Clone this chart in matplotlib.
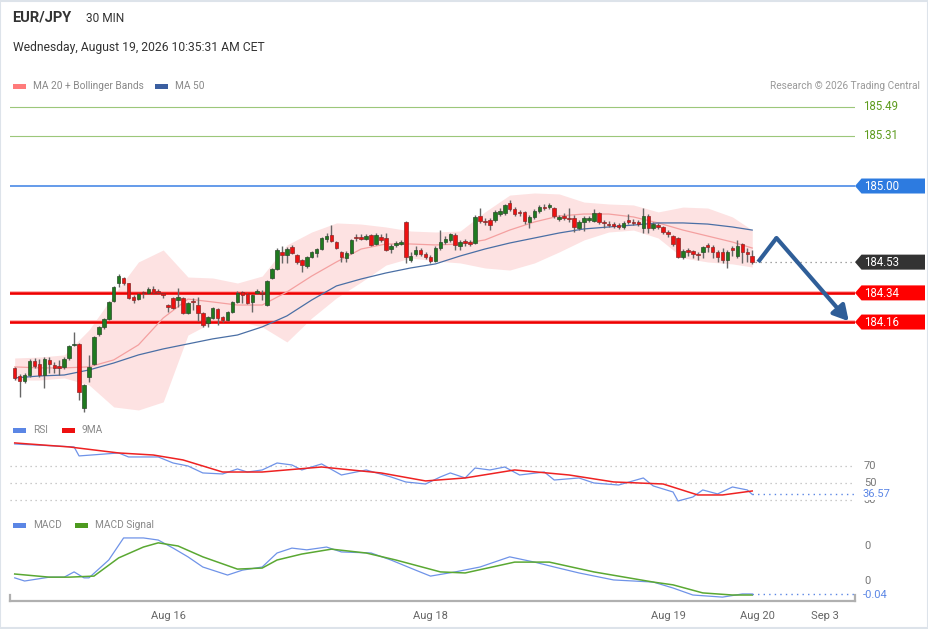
import matplotlib
matplotlib.use("Agg")
import matplotlib.pyplot as plt
from matplotlib.patches import Rectangle, Polygon
import numpy as np

plt.rcParams['font.family'] = ['Roboto', 'DejaVu Sans']

# ---------------- data ----------------
opens = [183.877,183.827,183.796,183.833,183.920,183.901,183.833,183.926,183.895,183.889,
         183.883,183.938,184.019,184.025,183.630,183.821,183.901,184.086,184.130,184.179,
         184.290,184.401,184.432,184.401,184.315,184.302,184.340,184.340,184.364,184.352,
         184.340,184.265,184.309,184.296,184.309,184.216,184.284,184.265,184.216,184.154,
         184.185,184.241,184.191,184.173,184.222,184.284,184.346,184.333,184.284,184.340,
         184.340,184.265,184.432,184.488,184.593,184.574,184.623,184.574,184.543,184.506,
         184.562,184.586,184.611,184.673,184.698,184.654,184.593,184.556,184.586,184.679,
         184.685,184.673,184.698,184.642,184.685,184.679,184.611,184.636,184.642,184.778,
         184.543,184.580,184.605,184.580,184.562,184.537,184.617,184.654,184.667,184.698,
         184.630,184.660,184.654,184.648,184.815,184.784,184.790,184.790,184.827,184.833,
         184.895,184.858,184.840,184.840,184.778,184.809,184.846,184.870,184.870,184.864,
         184.796,184.815,184.802,184.802,184.741,184.778,184.790,184.784,184.833,184.778,
         184.765,184.765,184.759,184.747,184.790,184.778,184.778,184.741,184.815,184.741,
         184.759,184.747,184.716,184.691,184.679,184.562,184.605,184.599,184.580,184.593,
         184.636,184.623,184.593,184.593,184.543,184.617,184.568,184.642,184.593,184.568]
closes = [183.815,183.796,183.833,183.920,183.889,183.833,183.932,183.901,183.877,183.877,
          183.932,184.012,184.025,183.728,183.772,183.883,184.068,184.130,184.179,184.284,
          184.377,184.444,184.401,184.309,184.296,184.333,184.338,184.364,184.340,184.340,
          184.327,184.253,184.247,184.315,184.216,184.278,184.282,184.216,184.142,184.191,
          184.247,184.185,184.173,184.222,184.284,184.340,184.327,184.278,184.327,184.352,
          184.336,184.414,184.488,184.605,184.574,184.611,184.586,184.531,184.512,184.562,
          184.593,184.611,184.679,184.691,184.660,184.617,184.562,184.586,184.667,184.677,
          184.673,184.691,184.636,184.698,184.667,184.605,184.630,184.648,184.654,184.562,
          184.568,184.605,184.580,184.562,184.537,184.617,184.654,184.673,184.704,184.636,
          184.654,184.648,184.642,184.809,184.784,184.778,184.759,184.840,184.846,184.883,
          184.858,184.827,184.833,184.784,184.809,184.846,184.870,184.864,184.883,184.815,
          184.809,184.802,184.796,184.747,184.778,184.802,184.802,184.833,184.778,184.772,
          184.759,184.753,184.747,184.772,184.778,184.772,184.765,184.815,184.741,184.765,
          184.747,184.716,184.704,184.642,184.562,184.599,184.593,184.580,184.574,184.623,
          184.623,184.593,184.562,184.543,184.593,184.605,184.630,184.593,184.580,184.531]
highs = [183.883,183.840,183.846,183.932,183.938,183.932,183.944,183.944,183.914,183.926,
         183.944,184.019,184.099,184.031,183.778,183.957,184.074,184.136,184.185,184.290,
         184.383,184.457,184.438,184.401,184.327,184.340,184.352,184.377,184.383,184.364,
         184.340,184.272,184.315,184.370,184.315,184.284,184.309,184.315,184.222,184.198,
         184.253,184.247,184.198,184.228,184.290,184.352,184.352,184.340,184.333,184.364,
         184.358,184.420,184.494,184.617,184.630,184.623,184.636,184.580,184.549,184.568,
         184.599,184.617,184.685,184.710,184.759,184.660,184.599,184.599,184.673,184.704,
         184.704,184.704,184.704,184.710,184.704,184.710,184.642,184.660,184.667,184.784,
         184.593,184.630,184.617,184.593,184.574,184.630,184.728,184.691,184.710,184.710,
         184.667,184.673,184.667,184.821,184.864,184.802,184.802,184.852,184.864,184.889,
         184.914,184.870,184.852,184.846,184.821,184.858,184.883,184.889,184.895,184.870,
         184.821,184.833,184.864,184.821,184.790,184.815,184.815,184.858,184.840,184.790,
         184.784,184.778,184.772,184.784,184.827,184.796,184.790,184.864,184.827,184.778,
         184.772,184.753,184.728,184.698,184.685,184.611,184.617,184.605,184.593,184.630,
         184.648,184.636,184.605,184.617,184.605,184.630,184.667,184.648,184.617,184.605]
lows = [183.802,183.698,183.784,183.821,183.877,183.821,183.753,183.846,183.846,183.833,
        183.870,183.926,184.012,183.679,183.605,183.790,183.895,184.074,184.117,184.173,
        184.284,184.377,184.389,184.302,184.278,184.296,184.309,184.333,184.333,184.333,
        184.309,184.222,184.241,184.253,184.210,184.210,184.235,184.167,184.130,184.130,
        184.179,184.142,184.160,184.167,184.216,184.278,184.278,184.272,184.222,184.333,
        184.296,184.259,184.426,184.481,184.525,184.525,184.580,184.519,184.469,184.494,
        184.556,184.562,184.605,184.654,184.654,184.611,184.531,184.531,184.580,184.660,
        184.667,184.667,184.630,184.636,184.654,184.599,184.586,184.623,184.636,184.525,
        184.531,184.568,184.568,184.549,184.525,184.531,184.605,184.642,184.654,184.605,
        184.605,184.630,184.630,184.642,184.772,184.759,184.728,184.778,184.815,184.821,
        184.846,184.815,184.815,184.765,184.741,184.796,184.833,184.852,184.858,184.802,
        184.784,184.790,184.778,184.716,184.728,184.722,184.778,184.778,184.765,184.741,
        184.747,184.741,184.735,184.735,184.765,184.759,184.753,184.710,184.710,184.728,
        184.735,184.704,184.685,184.630,184.556,184.549,184.568,184.556,184.543,184.556,
        184.593,184.556,184.531,184.525,184.494,184.568,184.556,184.525,184.531,184.519]

# Indicator samples (candle index, value)
ind_idx = [0,5,10,15,20,25,30,35,40,45,50,55,60,65,70,75,80,85,90,95,100,105,110,115,120,125,130,135,140,145,149]
bb_upper = [183.938,183.944,183.957,184.111,184.327,184.531,184.605,184.438,184.432,184.401,184.444,184.636,
            184.716,184.772,184.765,184.747,184.722,184.716,184.722,184.840,184.944,184.957,184.951,184.901,
            184.889,184.883,184.840,184.870,184.864,184.809,184.728]
bb_lower = [183.802,183.802,183.815,183.772,183.636,183.617,183.667,184.080,184.160,184.167,184.130,184.037,
            184.185,184.309,184.407,184.512,184.556,184.537,184.525,184.494,184.481,184.525,184.593,184.667,
            184.716,184.728,184.679,184.556,184.531,184.519,184.500]
ma20 = [183.883,183.877,183.877,183.883,183.926,184.019,184.185,184.302,184.284,184.265,184.265,184.346,
        184.444,184.531,184.611,184.642,184.642,184.636,184.642,184.667,184.728,184.778,184.815,184.827,
        184.827,184.809,184.772,184.728,184.691,184.654,184.617]
ma50 = [183.815,183.827,183.833,183.864,183.907,183.957,183.994,184.025,184.056,184.080,184.130,184.198,
        184.296,184.383,184.426,184.463,184.494,184.519,184.568,184.611,184.648,184.679,184.710,184.735,
        184.747,184.759,184.772,184.772,184.765,184.747,184.728]

rsi_idx = [0,12,13,21,23,29,32,35,38,42,45,47,50,53,56,58,62,66,71,76,79,83,86,88,91,93,96,99,102,107,
           109,114,117,122,127,129,133,134,137,139,142,145,148,149]
rsi_val = [95.9,92.4,81.8,85.3,80.6,80.6,73.5,70.0,61.8,60.6,66.5,62.9,65.3,73.5,71.2,65.3,72.4,59.4,65.3,
           57.1,51.2,48.8,57.1,61.8,55.9,67.6,65.3,68.8,59.4,62.9,53.5,55.9,50.0,47.6,55.9,46.5,39.4,28.8,
           33.5,41.8,37.1,45.3,41.8,36.57]
rsi_ma_idx = [0,11,21,28,34,42,50,62,74,83,91,101,112,121,131,138,143,149]
rsi_ma_val = [97.1,92.4,85.3,82.9,77.1,62.9,62.9,68.8,61.8,52.4,55.9,65.3,59.4,51.2,48.8,35.9,35.9,40.6]
rsi_levels = [70, 50, 30]

macd_idx = [0,2,7,10,12,14,15,19,22,26,29,32,35,38,43,46,50,53,56,59,63,66,72,76,81,84,89,94,100,105,
            109,114,121,129,133,137,143,147,149]
macd_val = [0.009,0.000,0.011,0.011,0.026,0.009,0.009,0.060,0.123,0.123,0.117,0.094,0.069,0.040,0.017,
            0.031,0.040,0.080,0.094,0.089,0.097,0.083,0.080,0.060,0.031,0.014,0.026,0.040,0.069,0.054,
            0.040,0.023,0.003,-0.003,-0.020,-0.040,-0.046,-0.037,-0.037]
sig_idx = [0,7,11,16,21,26,29,33,38,45,50,53,58,64,71,77,86,91,101,108,117,129,133,139,145,149]
sig_val = [0.020,0.011,0.011,0.014,0.066,0.097,0.109,0.100,0.069,0.034,0.037,0.060,0.077,0.091,0.080,
           0.060,0.026,0.023,0.054,0.054,0.026,-0.003,-0.011,-0.034,-0.040,-0.040]
macd_ticks = [0.1, 0.0]

levels_green = [185.49, 185.31]
level_blue = 185.00
levels_red = [184.34, 184.16]
last_price = 184.53

forecast_idx = [150.2, 153.9, 168.5]
forecast_price = [184.531, 184.679, 184.165]

tick_idx = [31, 84, 132, 150, 163.7]
tick_labels = ['Aug 16', 'Aug 18', 'Aug 19', 'Aug 20', 'Sep 3']

# ---------------- layout ----------------
W, H = 929, 629
fig = plt.figure(figsize=(W / 100, H / 100), dpi=100)
fig.patch.set_facecolor('white')

def rect(x0, y0, x1, y1):
    return [x0 / W, 1 - y1 / H, (x1 - x0) / W, (y1 - y0) / H]

XLIM = (-0.95, 169.76)
ax = fig.add_axes(rect(10, 95, 855, 415))
ax_r = fig.add_axes(rect(10, 438, 855, 505))
ax_m = fig.add_axes(rect(10, 535, 855, 601))
for a in (ax, ax_r, ax_m):
    a.set_xlim(*XLIM)
    a.set_facecolor('none')
    for s in a.spines.values():
        s.set_visible(False)
    a.set_xticks([])
    a.set_yticks([])
ax.set_ylim(183.586, 185.562)
ax_r.set_ylim(24.1, 102.9)
ax_m.set_ylim(-0.0571, 0.1314)

n = len(closes)
xs = np.arange(n)
o = np.array(opens); c = np.array(closes); h = np.array(highs); l = np.array(lows)

# Bollinger + MAs
ax.fill_between(ind_idx, bb_lower, bb_upper, color='#fde2e2', lw=0, zorder=1)
ax.plot(ind_idx, ma20, color='#f4a0a0', lw=0.9, zorder=2)
ax.plot(ind_idx, ma50, color='#4a6fa5', lw=0.9, zorder=2)

# level lines
for lv in levels_green:
    ax.axhline(lv, color='#9cc77a', lw=0.8, zorder=1)
ax.axhline(level_blue, color='#4a8ae6', lw=1.2, zorder=1)
for lv in levels_red:
    ax.axhline(lv, color='#ffb0b0', lw=2.8, zorder=1)
    ax.axhline(lv, color='#ee0000', lw=1.8, zorder=1)

# candles
up = c >= o
ax.vlines(xs, l, h, color='#666666', lw=1.0, zorder=3)
body_bot = np.minimum(o, c)
body_h = np.maximum(np.abs(c - o), 0.006)
ax.bar(xs[up], body_h[up], bottom=body_bot[up], width=0.72,
       color='#1f7a1f', edgecolor='#2b4a2b', linewidth=0.5, zorder=4)
ax.bar(xs[~up], body_h[~up], bottom=body_bot[~up], width=0.72,
       color='#ee1111', edgecolor='#8a2a2a', linewidth=0.5, zorder=4)

# last price dotted
ax.plot([n - 0.4, XLIM[1]], [last_price, last_price], color='#888888', lw=0.9,
        ls=(0, (1, 3)), zorder=2)

# forecast arrow
arrow_col = '#2f5e98'
ax.plot(forecast_idx[:2], forecast_price[:2], color=arrow_col, lw=3, solid_capstyle='butt', zorder=5)
ax.annotate('', xy=(forecast_idx[2], forecast_price[2]), xytext=(forecast_idx[1], forecast_price[1]),
            arrowprops=dict(arrowstyle='-|>,head_length=0.9,head_width=0.5', lw=3, color=arrow_col,
                            shrinkA=0, shrinkB=0), zorder=5)

# RSI panel
for lv in rsi_levels:
    ax_r.axhline(lv, color='#bbbbbb', lw=0.9, ls=(0, (1, 3)))
ax_r.plot(rsi_idx, rsi_val, color='#6f93e8', lw=0.9)
ax_r.plot(rsi_ma_idx, rsi_ma_val, color='#ee2222', lw=1.1)
ax_r.plot([n - 1, XLIM[1]], [rsi_val[-1]] * 2, color='#5b86e5', lw=1.0, ls=(0, (1, 3)))

# MACD panel
ax_m.plot(macd_idx, macd_val, color='#6f93e8', lw=0.9)
ax_m.plot(sig_idx, sig_val, color='#5aa832', lw=1.1)
ax_m.plot([n - 1, XLIM[1]], [macd_val[-1]] * 2, color='#5b86e5', lw=1.0, ls=(0, (1, 3)))
ax_m.spines['bottom'].set_visible(True)
ax_m.spines['bottom'].set_color('#b0b0b0')
ax_m.spines['bottom'].set_linewidth(1.6)
ax_m.plot([0, 0], [0, 0.09], transform=ax_m.transAxes, color='#b0b0b0', lw=1.6, clip_on=False)
ax_m.plot([1, 1], [0, 0.09], transform=ax_m.transAxes, color='#b0b0b0', lw=1.6, clip_on=False)
ax_m.set_xticks(tick_idx)
ax_m.set_xticklabels(tick_labels, fontsize=8, color='#666666')
ax_m.tick_params(axis='x', length=0, pad=7)

# ---------------- right labels ----------------
ov = fig.add_axes([0, 0, 1, 1])
ov.set_xlim(0, W); ov.set_ylim(H, 0)
ov.axis('off')
ov.set_zorder(10)
fig.canvas.draw()

def to_px(a, v):
    return H - a.transData.transform((0, v))[1]

def tag(price, color, text):
    yc = to_px(ax, price)
    pts = [(855, yc), (861.5, yc - 7.5), (925, yc - 7.5), (925, yc + 7.5), (861.5, yc + 7.5)]
    ov.add_patch(Polygon(pts, closed=True, facecolor=color, edgecolor='none'))
    ov.text(864, yc + 0.5, text, color='white', fontsize=8.3, va='center', ha='left')

for lv in levels_green:
    ov.text(863, to_px(ax, lv), f'{lv:.2f}', color='#5e9c1e', fontsize=8.3, va='center', ha='left')
tag(level_blue, '#2d7be0', f'{level_blue:.2f}')
tag(last_price, '#333333', f'{last_price:.2f}')
for lv in levels_red:
    tag(lv, '#ff0000', f'{lv:.2f}')

for lv in rsi_levels:
    ov.text(864, to_px(ax_r, lv), str(lv), color='#777777', fontsize=8, va='center', ha='left')
ov.text(863, to_px(ax_r, rsi_val[-1]), f'{rsi_val[-1]:.2f}', color='#5b86e5', fontsize=8,
        va='center', ha='left', bbox=dict(facecolor='white', edgecolor='none', pad=0.3))
for tv in macd_ticks:
    ov.text(864, to_px(ax_m, tv), f'{tv:.0f}', color='#777777', fontsize=8, va='center', ha='left')
ov.text(863, to_px(ax_m, macd_val[-1]) + 1, f'{macd_val[-1]:.2f}', color='#5b86e5', fontsize=8,
        va='center', ha='left')

# ---------------- header & legends ----------------
ov.text(12, 18, 'EUR/JPY', fontsize=10.5, fontweight='bold', color='#333333', va='center')
ov.text(86, 18, '30 MIN', fontsize=8.6, color='#333333', va='center')
ov.text(13, 48, 'Wednesday, August 19, 2026 10:35:31 AM CET', fontsize=8.75, color='#333333', va='center')
ov.text(920, 86, 'Research \u00a9 2026 Trading Central', fontsize=7.3, color='#999999', va='center', ha='right')

def legend_item(x, y, color, label, size=7.3):
    ov.add_patch(Rectangle((x, y - 2.5), 13, 5, facecolor=color, edgecolor='none'))
    ov.text(x + 20, y, label, fontsize=size, color='#888888', va='center', ha='left')

legend_item(13, 86, '#ff7b7b', 'MA 20 + Bollinger Bands')
legend_item(155, 86, '#3b5fa0', 'MA 50')
legend_item(13, 430, '#5b86e5', 'RSI')
legend_item(62, 430, '#ee1111', '9MA')
legend_item(13, 525, '#5b86e5', 'MACD')
legend_item(75, 525, '#4d9a1f', 'MACD Signal')

# figure border
ov.add_patch(Rectangle((0.5, 0.5), W - 1.5, H - 1.5, fill=False, edgecolor='#dde3ea', lw=1.5))

fig.savefig('out.png', dpi=100)
